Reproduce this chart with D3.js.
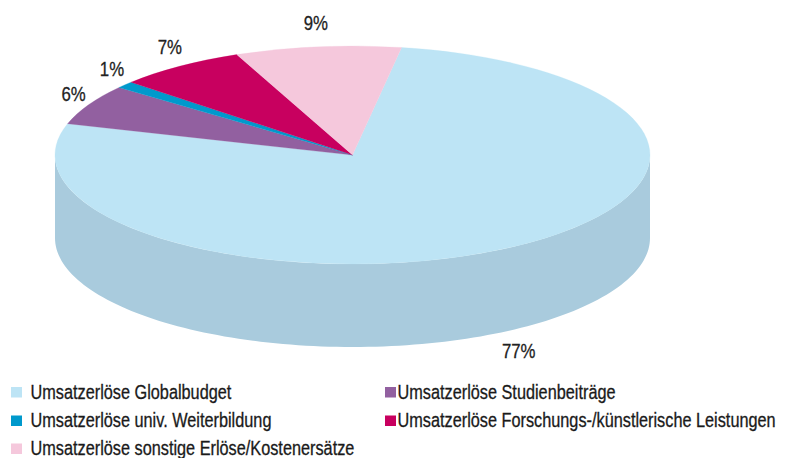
<!DOCTYPE html>
<html>
<head>
<meta charset="utf-8">
<script src="https://cdn.jsdelivr.net/npm/d3@7"></script>
<style>
  html, body { margin: 0; padding: 0; background: #fff; }
  svg { display: block; }
</style>
</head>
<body>
<svg id="chart" width="785" height="458"></svg>
<script>
// ---- data ----
const categories = [
  "Umsatzerlöse Globalbudget",
  "Umsatzerlöse Studienbeiträge",
  "Umsatzerlöse univ. Weiterbildung",
  "Umsatzerlöse Forschungs-/künstlerische Leistungen",
  "Umsatzerlöse sonstige Erlöse/Kostenersätze"
];
const values = [77, 6, 1, 7, 9];
const labels = ["77%", "6%", "1%", "7%", "9%"];
const topColors  = ["#bde4f5", "#9260a0", "#0099cc", "#c8005f", "#f5c8dc"];
const sideColors = ["#a9cbdd", "#7a4f87", "#0080ab", "#a8004f", "#d9aec1"];

// ---- layout ----
const W = 785, H = 458;
const cx = 352.5, cy = 155, rx = 297.5, ry = 109, depth = 83;
const startDeg = 9.5;
const font = "'Liberation Sans',Arial,sans-serif";

const svg = d3.select("#chart");

const pie = d3.pie().sort(null).value(d => d)
  .startAngle(startDeg * Math.PI / 180)
  .endAngle(startDeg * Math.PI / 180 + 2 * Math.PI);
const arcs = pie(values);

const pt = (a, dy = 0) => [cx + rx * Math.sin(a), cy - ry * Math.cos(a) + dy];

// sides (front half only)
const sideG = svg.append("g");
const line = d3.line();
arcs.forEach((d, i) => {
  const a0 = Math.max(d.startAngle, Math.PI / 2);
  const a1 = Math.min(d.endAngle, 3 * Math.PI / 2);
  if (a1 <= a0) return;
  const n = 120;
  const angs = d3.range(n + 1).map(k => a0 + (a1 - a0) * k / n);
  const topPts = angs.map(a => pt(a));
  const botPts = angs.slice().reverse().map(a => pt(a, depth));
  sideG.append("path")
    .attr("d", line(topPts.concat(botPts)) + "Z")
    .attr("fill", sideColors[i]);
});

// top faces
const arcGen = d3.arc().innerRadius(0).outerRadius(rx);
const topG = svg.append("g")
  .attr("transform", `translate(${cx},${cy}) scale(1,${ry / rx})`);
topG.selectAll("path").data(arcs).join("path")
  .attr("d", arcGen)
  .attr("fill", (d, i) => topColors[i])
  .attr("stroke", (d, i) => topColors[i])
  .attr("stroke-width", 0.4);

// percentage labels (condensed horizontally via transform)
const lrx = rx + 17, lry = ry + 24, labSqueeze = 0.8;
svg.append("g").selectAll("g").data(arcs).join("g")
  .attr("transform", d => {
    const m = (d.startAngle + d.endAngle) / 2, c = Math.cos(m);
    const x = cx + lrx * Math.sin(m);
    const y = cy - lry * c + (c < 0 ? depth : 0) + 7;
    return `translate(${x},${y}) scale(${labSqueeze},1)`;
  })
  .append("text")
  .attr("text-anchor", "middle")
  .attr("font-family", font)
  .attr("font-size", 21)
  .attr("fill", "#222")
  .attr("stroke", "#222")
  .attr("stroke-width", 0.3)
  .text((d, i) => labels[i]);

// legend
const swatchX = [11, 385], textX = [30.5, 397.5], rowY = [387, 415.5, 443.5];
const leg = svg.append("g");
const items = [];
categories.forEach((c, i) => {
  const col = i % 2, y = rowY[Math.floor(i / 2)];
  leg.append("rect").attr("x", swatchX[col]).attr("y", y).attr("width", 11).attr("height", 10.5)
    .attr("fill", topColors[i]);
  const g = leg.append("g");
  g.append("text")
    .attr("x", 0).attr("y", 0)
    .attr("font-family", font)
    .attr("font-size", 19.5)
    .attr("fill", "#1a1a1a")
    .attr("stroke", "#1a1a1a")
    .attr("stroke-width", 0.3)
    .text(c);
  items.push({ g, x: textX[col], y: y + 11.5 });
});
const natural0 = items[0].g.select("text").node().getComputedTextLength();
const squeeze = 201 / natural0;
items.forEach(it => it.g.attr("transform", `translate(${it.x},${it.y}) scale(${squeeze},1)`));
</script>
</body>
</html>
